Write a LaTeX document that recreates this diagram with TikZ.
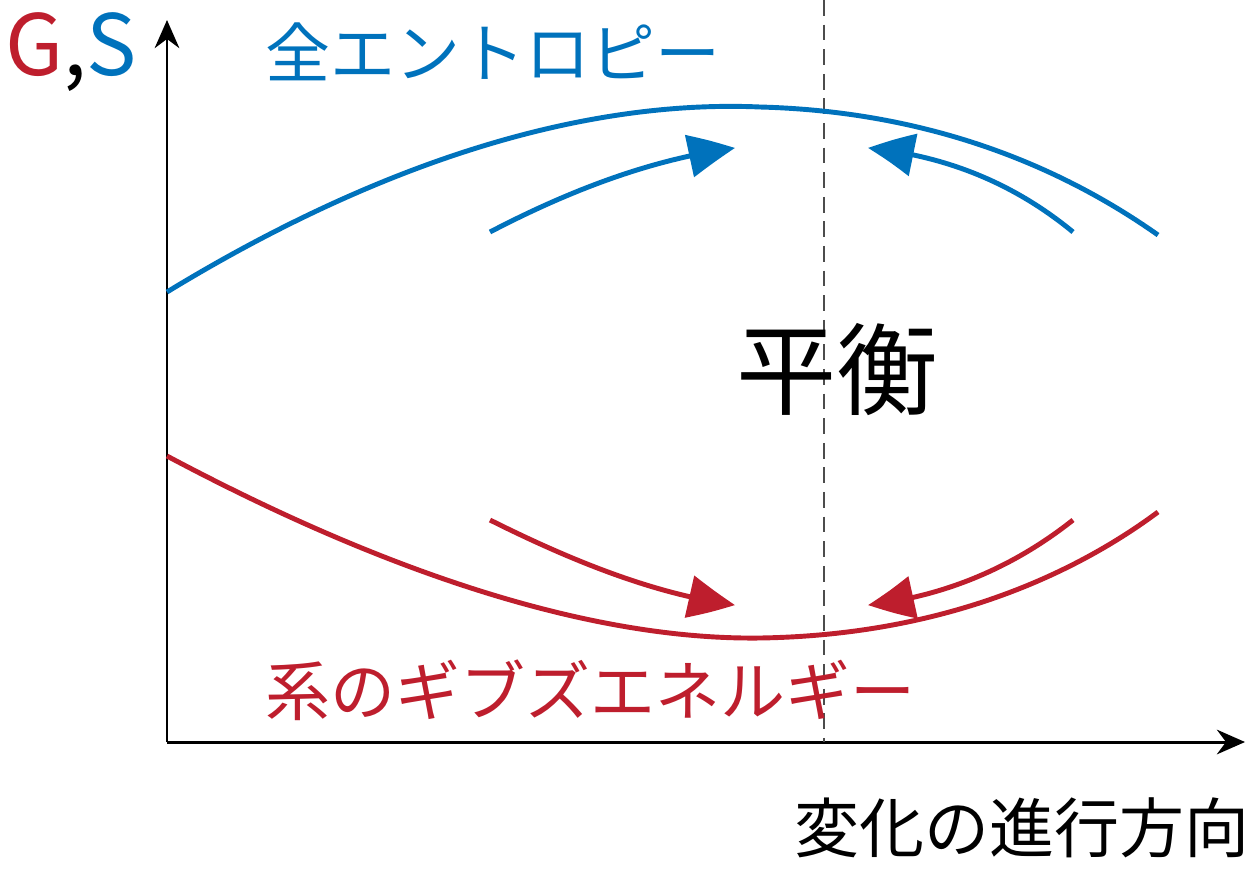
\documentclass[tikz,border=0pt]{standalone}
\usepackage{fontspec}
\setmainfont{Noto Sans CJK JP}
\usetikzlibrary{arrows.meta,bending}
\definecolor{sblue}{RGB}{0,114,188}
\definecolor{gred}{RGB}{190,30,45}
\tikzset{
  curve/.style={line width=2.8pt},
  flow/.style={line width=2.8pt, -{Triangle[length=26pt, width=24pt, bend]}},
  axis/.style={line width=1.7pt, -{Stealth[length=16pt, width=14pt]}},
  lab/.style={inner sep=0pt, font=\fontsize{37pt}{37pt}\selectfont}
}
\begin{document}
\begin{tikzpicture}[x=0.02cm, y=-0.02cm]
  \useasboundingbox (0,0) rectangle (1256,876);
  % axes
  \coordinate (o) at (167,742);
  \coordinate (ytop) at (167,20);
  \coordinate (xend) at (1245,742);
  \draw[axis] (o) -- (ytop);
  \draw[axis] (o) -- (xend);
  \draw[dashed, line width=1.5pt, black!70, dash pattern=on 9pt off 5pt] (824,0) -- (824,742);
  % entropy
  \draw[curve, sblue] (167,292) .. controls (400,150) and (600,100) .. (760,107)
    .. controls (950,112) and (1080,180) .. (1158,235);
  \draw[flow, sblue] (490,232) .. controls (580,185) and (660,158) .. (735,148);
  \draw[flow, sblue] (1073,232) .. controls (1010,180) and (940,155) .. (868,148);
  % gibbs energy
  \draw[curve, gred] (167,456) .. controls (400,580) and (600,640) .. (760,638)
    .. controls (950,635) and (1080,570) .. (1158,512);
  \draw[flow, gred] (490,520) .. controls (580,565) and (660,595) .. (735,605);
  \draw[flow, gred] (1073,520) .. controls (1010,570) and (940,597) .. (868,605);
  % labels
  \node[lab, anchor=west, font=\fontsize{48pt}{48pt}\selectfont] (gs) at (5,52)
    {\textcolor{gred}{G},\textcolor{sblue}{S}};
  \node[lab, sblue, anchor=west] (s) at (265,52) {全エントロピー};
  \node[lab, anchor=center, font=\fontsize{57pt}{57pt}\selectfont] (eq) at (837,370) {平衡};
  \node[lab, gred, anchor=west] (g) at (265,690) {系のギブズエネルギー};
  \node[lab, anchor=east] (dir) at (1250,828) {変化の進行方向};
\end{tikzpicture}
\end{document}
